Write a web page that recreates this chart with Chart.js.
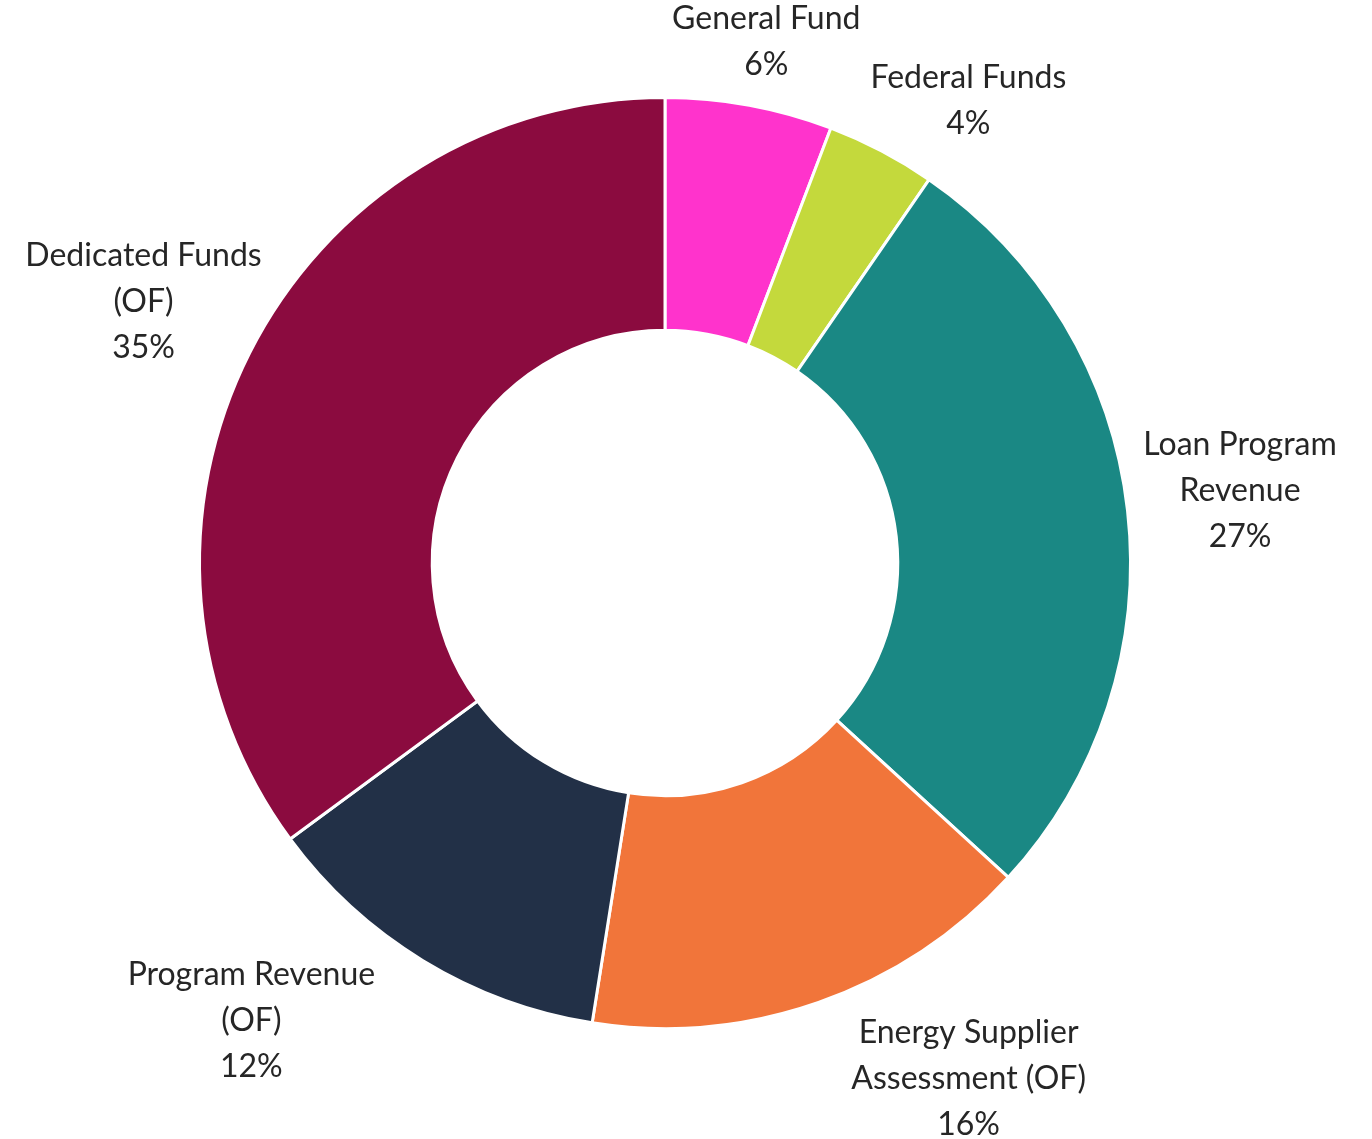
<!DOCTYPE html>
<html>
<head>
<meta charset="utf-8">
<script src="https://cdn.jsdelivr.net/npm/chart.js@4.4.1/dist/chart.umd.min.js"></script>
<style>
  html, body { margin: 0; padding: 0; background: #fff; }
  #wrap { width: 1372px; height: 1139px; position: relative; }
</style>
</head>
<body>
<div id="wrap"><canvas id="chart"></canvas></div>
<script>
// funding sources, clockwise from 12 o'clock
const categories = [
  ['General Fund'],
  ['Federal Funds'],
  ['Loan Program', 'Revenue'],
  ['Energy Supplier', 'Assessment (OF)'],
  ['Program Revenue', '(OF)'],
  ['Dedicated Funds', '(OF)']
];
const shares = [5.8, 3.8, 27.2, 15.7, 12.4, 35.1];
const colors = ['#FF33CC', '#C4D93C', '#1A8884', '#F1753A', '#223047', '#8B0B3F'];

// small hand nudges so labels sit where the original put them
const labelNudge = [[12, -8], [61, -1], [7, -11], [134, 2], [-133, -7], [-3, -16]];

const FONT = '32px Lato';
const LINE_H = 46;

const outsideLabels = {
  id: 'outsideLabels',
  afterDatasetsDraw(chart) {
    const ctx = chart.ctx;
    const meta = chart.getDatasetMeta(0);
    ctx.save();
    ctx.font = FONT;
    ctx.fillStyle = '#262626';
    ctx.textAlign = 'center';
    ctx.textBaseline = 'middle';
    meta.data.forEach((arc, i) => {
      const p = arc.getProps(['x', 'y', 'startAngle', 'endAngle', 'outerRadius'], true);
      const mid = (p.startAngle + p.endAngle) / 2;
      const lines = categories[i].concat([Math.round(shares[i]) + '%']);
      const w = Math.max(...lines.map(l => ctx.measureText(l).width));
      const h = lines.length * LINE_H;
      const r = p.outerRadius + 10;
      const cx = p.x + Math.cos(mid) * (r + w / 2 * Math.abs(Math.cos(mid))) + labelNudge[i][0];
      const cy = p.y + Math.sin(mid) * r + Math.sin(mid) * h / 2 + labelNudge[i][1];
      lines.forEach((l, k) => {
        ctx.fillText(l, cx, cy - h / 2 + LINE_H * (k + 0.5));
      });
    });
    ctx.restore();
  }
};

new Chart(document.getElementById('chart'), {
  type: 'doughnut',
  data: {
    labels: categories,
    datasets: [{
      data: shares,
      backgroundColor: colors,
      borderColor: '#ffffff',
      borderWidth: 3
    }]
  },
  options: {
    responsive: true,
    maintainAspectRatio: false,
    animation: false,
    cutout: '50%',
    layout: { padding: { left: 198, right: 240, top: 96, bottom: 109 } },
    plugins: {
      legend: { display: false },
      tooltip: { enabled: false }
    }
  },
  plugins: [outsideLabels]
});
</script>
</body>
</html>
